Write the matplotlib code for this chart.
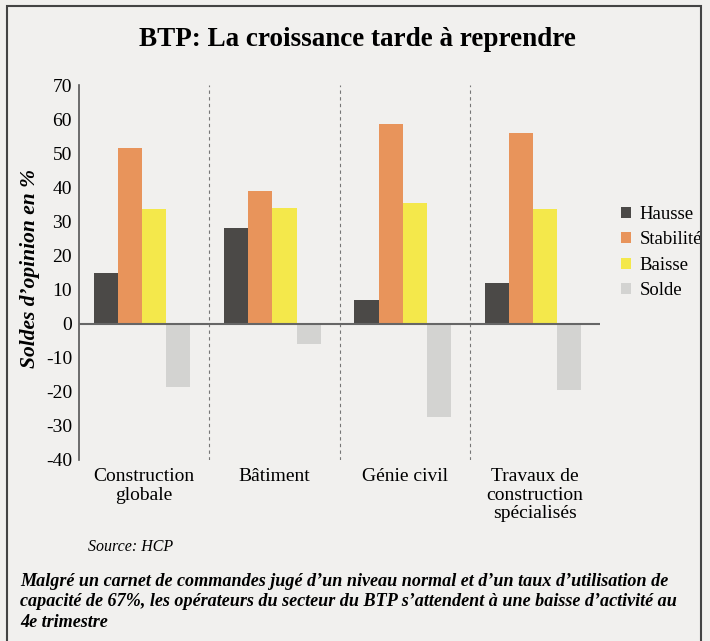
import numpy as np, matplotlib.pyplot as plt
from matplotlib import rcParams
from matplotlib.patches import Rectangle

rcParams['font.family'] = 'Liberation Serif'

categories = ['Construction\nglobale', 'Bâtiment', 'Génie civil', 'Travaux de\nconstruction\nspécialisés']
series = ['Hausse', 'Stabilité', 'Baisse', 'Solde']
hausse = [15, 28, 7, 12]
stabilite = [51.5, 39, 58.5, 56]
baisse = [33.5, 34, 35.5, 33.5]
solde = [-18.5, -6, -27.5, -19.5]
colors = ['#4b4947', '#e8945b', '#f4e84b', '#d3d3d1']
yticks = list(range(-40, 71, 10))

W, H = 710, 641
bg = '#f1f0ee'
fig = plt.figure(figsize=(W/100, H/100), dpi=100, facecolor=bg)
ax = fig.add_axes([79/W, 1-460/H, 521/W, 375/H], facecolor=bg)

x = np.arange(len(categories))
bw = 0.185
for k, (name, vals) in enumerate(zip(series, [hausse, stabilite, baisse, solde])):
    ax.bar(x + (k-1.5)*bw - 0.015, vals, bw, color=colors[k], label=name, zorder=2)

ax.axhline(0, color='#666666', lw=1.5, zorder=3)
for sep in [0.5, 1.5, 2.5]:
    ax.axvline(sep, color='#777777', lw=0.8, ls=(0, (3, 3)), zorder=1)

ax.set_xlim(-0.5, 3.5)
ax.set_ylim(-40, 70)
ax.set_yticks(yticks, labels=[str(t) for t in yticks])
ax.set_xticks(x, labels=categories)
ax.tick_params(axis='y', length=0, pad=5, labelsize=14)
ax.tick_params(axis='x', length=0, pad=6, labelsize=14)
for lbl in ax.get_xticklabels():
    lbl.set_linespacing(1.1)
for s in ['top', 'right', 'bottom']:
    ax.spines[s].set_visible(False)
ax.spines['left'].set_color('#555555')
ax.spines['left'].set_linewidth(1.2)

ax.legend(loc='upper left', bbox_to_anchor=(621/W, 1-206/H), bbox_transform=fig.transFigure,
          frameon=False, fontsize=13.5, handlelength=0.55, handleheight=0.55,
          handletextpad=0.45, labelspacing=0.45, borderpad=0, borderaxespad=0)

fig.text(30/W, 1-268/H, "Soldes d\u2019opinion en %", rotation=90, ha='center', va='center',
         fontsize=15.5, fontweight='bold', style='italic')
fig.text(357/W, 1-40/H, 'BTP: La croissance tarde à reprendre', ha='center', va='center',
         fontsize=19.5, fontweight='bold')
fig.text(88/W, 1-547/H, 'Source: HCP', ha='left', va='center', fontsize=11.5, style='italic')
fig.text(20/W, 1-602/H,
         "Malgré un carnet de commandes jugé d\u2019un niveau normal et d\u2019un taux d\u2019utilisation de\n"
         "capacité de 67%, les opérateurs du secteur du BTP s\u2019attendent à une baisse d\u2019activité au\n"
         "4e trimestre",
         ha='left', va='center', fontsize=13.1, fontweight='bold', style='italic', linespacing=1.3)

fig.patches.append(Rectangle((7/W, -0.05), 694/W, 1 - 6/H + 0.05, transform=fig.transFigure,
                             fill=False, edgecolor='#444444', lw=1.5))

plt.savefig('out.png', dpi=100, facecolor=bg)
